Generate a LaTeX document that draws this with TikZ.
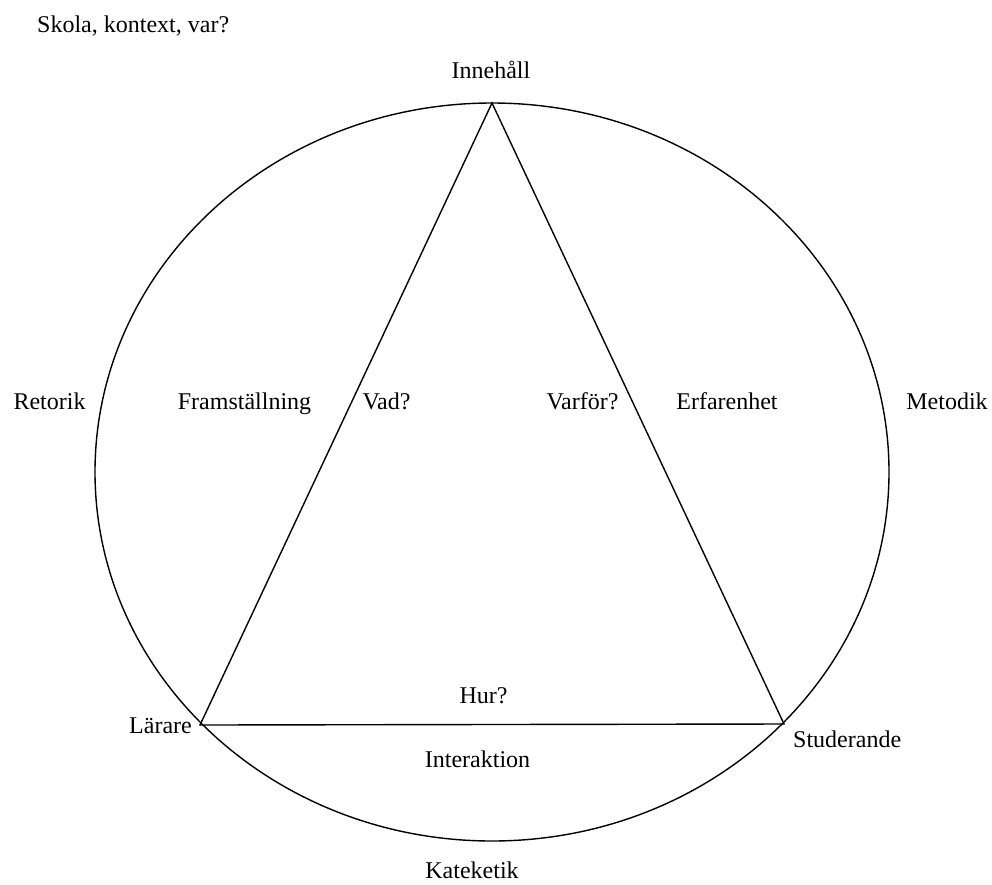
\documentclass[tikz,border=0pt]{standalone}
\usepackage{fontspec}
\setmainfont{Liberation Serif}
\begin{document}
\begin{tikzpicture}[x=1pt,y=-1pt,
  lbl/.style={inner sep=0pt,font=\fontsize{24}{28}\selectfont},
  edge/.style={line width=1.4pt,black}]
\useasboundingbox[fill=white] (0,0) rectangle (992,884);
% circle
\coordinate (c) at (492,472);
\draw[edge] (c) ellipse [x radius=397, y radius=369];
% triangle
\coordinate (top) at (492,103);
\coordinate (L) at (200,725);
\coordinate (R) at (784,724);
\draw[edge,line join=miter] (top) -- (L) -- (R) -- cycle;
% labels
\node[lbl,anchor=base west] (skola) at (37,32) {Skola, kontext, var?};
\node[lbl,anchor=base] (inneh) at (491,78) {Innehåll};
\node[lbl,anchor=base] (retorik) at (49.5,409) {Retorik};
\node[lbl,anchor=base] (fram) at (244.5,409) {Framställning};
\node[lbl,anchor=base] (vad) at (386.5,409) {Vad?};
\node[lbl,anchor=base] (varfor) at (582.5,409) {Varför?};
\node[lbl,anchor=base] (erf) at (727,409) {Erfarenhet};
\node[lbl,anchor=base] (metodik) at (947,409) {Metodik};
\node[lbl,anchor=base] (hur) at (483.5,703) {Hur?};
\node[lbl,anchor=base east] (larare) at (192,733) {Lärare};
\node[lbl,anchor=base west] (stud) at (793,747) {Studerande};
\node[lbl,anchor=base] (inter) at (477.5,767) {Interaktion};
\node[lbl,anchor=base] (kat) at (472,878) {Kateketik};
\end{tikzpicture}
\end{document}
